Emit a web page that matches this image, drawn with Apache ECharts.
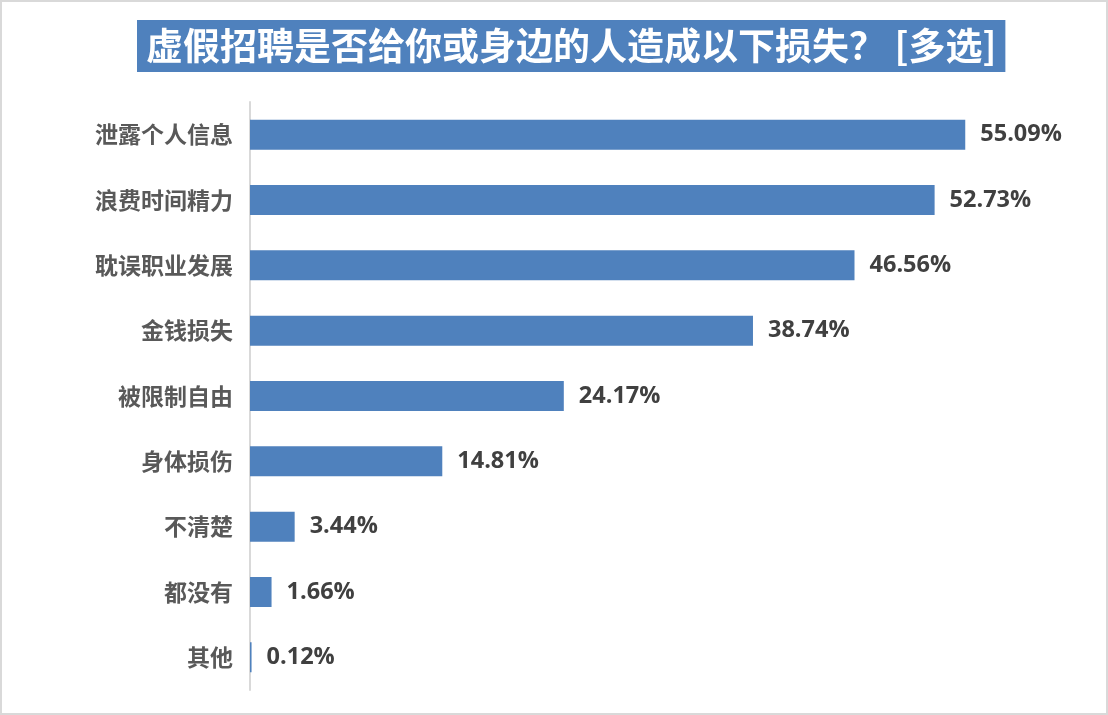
<!DOCTYPE html>
<html>
<head>
<meta charset="utf-8">
<script src="https://cdn.jsdelivr.net/npm/echarts@6/dist/echarts.min.js"></script>
<style>
html,body{margin:0;padding:0;background:#fff;}
#frame{position:absolute;left:0;top:0;width:1104px;height:711px;border:2px solid #d9d9d9;}
#chart{position:absolute;left:0;top:0;width:1108px;height:715px;}
</style>
</head>
<body>
<div id="frame"></div>
<div id="chart"></div>
<script>
const titleText = '虚假招聘是否给你或身边的人造成以下损失？ [多选]';
const categories = ['泄露个人信息','浪费时间精力','耽误职业发展','金钱损失','被限制自由','身体损伤','不清楚','都没有','其他'];
const values = [55.09, 52.73, 46.56, 38.74, 24.17, 14.81, 3.44, 1.66, 0.12];

const chart = echarts.init(document.getElementById('chart'), null, {renderer:'canvas'});
chart.setOption({
  backgroundColor: 'transparent',
  title: {
    text: titleText,
    left: 137,
    top: 20,
    padding: [4, 9, 4, 9],
    backgroundColor: '#4f81bd',
    textStyle: {
      color: '#ffffff',
      fontSize: 37,
      fontWeight: 'bold',
      fontFamily: 'Noto Sans CJK SC',
      lineHeight: 44
    }
  },
  grid: { left: 250, top: 102, bottom: 25, right: 79, containLabel: false },
  xAxis: {
    type: 'value', min: 0, max: 60,
    show: false
  },
  yAxis: {
    type: 'category',
    data: categories,
    inverse: true,
    axisLine: { show: true, lineStyle: { color: '#d9d9d9', width: 2 } },
    axisTick: { show: false },
    axisLabel: {
      margin: 17,
      color: '#595959',
      fontSize: 23,
      fontWeight: 'bold',
      fontFamily: 'Noto Sans CJK SC'
    }
  },
  series: [{
    type: 'bar',
    data: values,
    barCategoryGap: '54%',
    itemStyle: { color: '#4f81bd' },
    label: {
      show: true,
      position: 'right',
      distance: 15,
      color: '#404040',
      fontSize: 23.5,
      fontWeight: 'bold',
      fontFamily: 'Open Sans',
      formatter: p => p.value.toFixed(2) + '%'
    },
    animation: false
  }],
  animation: false
});
</script>
</body>
</html>
